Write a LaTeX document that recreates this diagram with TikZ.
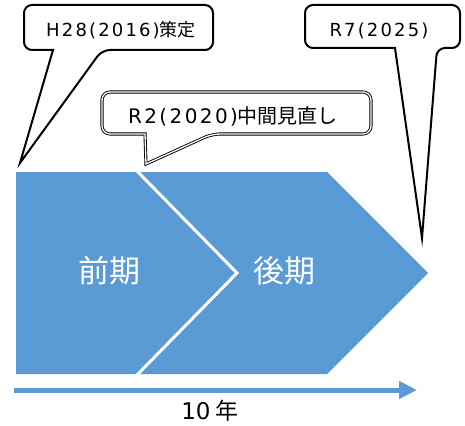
\documentclass[tikz,border=0pt]{standalone}
\usepackage{fontspec}
\setmainfont{Noto Sans CJK JP}
\newfontfamily\widelatin[LetterSpace=12]{DejaVu Sans}
\newfontfamily\plainlatin{DejaVu Sans}
\usetikzlibrary{arrows.meta}
\definecolor{planblue}{HTML}{5B9BD5}
\begin{document}
\begin{tikzpicture}[x=1pt,y=-1pt,
  phase/.style={fill=planblue},
  phasetext/.style={text=white,inner sep=0pt,font=\fontsize{31}{31}\selectfont},
  callout/.style={draw=black,line width=2pt,fill=white,line join=miter},
  calloutdbl/.style={draw=black,double=white,line width=0.9pt,double distance=1.3pt,line join=miter},
  ctext/.style={anchor=base,inner sep=0pt,font=\fontsize{18}{18}\selectfont},
  timeline/.style={draw=planblue,line width=5pt,-{Triangle[length=18pt,width=17pt]}},
]
\useasboundingbox (0,0) rectangle (465,425);
% phases
\fill[phase] (16,172) -- (136,172) -- (237,273) -- (136,374) -- (16,374) -- cycle;
\fill[phase] (136,172) -- (327,172) -- (428,273) -- (327,374) -- (136,374) -- (237,273) -- cycle;
\draw[white,line width=3pt] (136,170) -- (237,273) -- (136,376);
\node[phasetext] (zenki) at (109,271) {前期};
\node[phasetext] (kouki) at (284,271) {後期};
% timeline
\coordinate (tstart) at (14,390);
\coordinate (tend) at (417,390);
\draw[timeline] (tstart) -- (tend);
\node[inner sep=0pt,font=\fontsize{23}{23}\selectfont] (years) at (210,411) {{\plainlatin 10} 年};
% callout 1
\draw[callout] (20,163) -- (53,50) [rounded corners=8pt] -- (24,50) -- (24,5) -- (213,5) -- (213,50) -- (102,50) [sharp corners] -- cycle;
\node[ctext] (c1) at (121,36.5) {{\widelatin H28(2016)}策定};
% callout 3
\draw[callout] (422,238) -- (395,48) [rounded corners=8pt] -- (305,48) -- (305,5) -- (460,5) -- (460,48) -- (437,48) [sharp corners] -- cycle;
\node[ctext] (c3) at (379,36.5) {{\widelatin R7(2025)}};
% callout 2
\draw[calloutdbl] (146,164) -- (145,134) [rounded corners=8pt] -- (102,134) -- (102,92) -- (371,92) -- (371,134) -- (212,134) [sharp corners] -- cycle;
\node[ctext,font=\fontsize{20}{20}\selectfont] (c2) at (233,124) {{\widelatin R2(2020)}中間見直し};
\end{tikzpicture}
\end{document}
